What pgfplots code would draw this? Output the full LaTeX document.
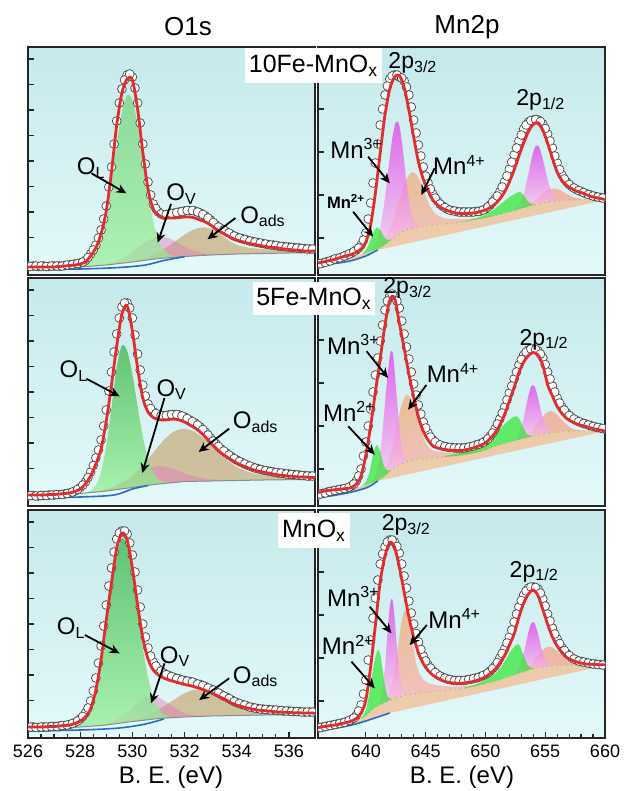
\documentclass[border=0pt]{standalone}
\usepackage{fontspec}
\setmainfont{Liberation Sans}
\usepackage{pgfplots}
\usepackage{pgfplotstable}
\pgfplotsset{compat=1.18}
\usetikzlibrary{arrows.meta}

\definecolor{bgtop}{RGB}{198,233,235}
\definecolor{bgbot}{RGB}{228,249,250}
\definecolor{fitred}{RGB}{225,45,45}
\definecolor{olgtop}{RGB}{60,180,75}
\definecolor{olgbot}{RGB}{150,240,150}
\definecolor{olltop}{RGB}{115,210,120}
\definecolor{ovc}{RGB}{225,120,185}
\definecolor{oadc}{RGB}{190,140,70}
\definecolor{mn2c}{RGB}{30,230,30}
\definecolor{mn3top}{RGB}{225,60,235}
\definecolor{mn3bot}{RGB}{250,200,235}
\definecolor{mn4top}{RGB}{238,175,120}
\definecolor{mn4bot}{RGB}{250,175,175}
\definecolor{mn4b}{RGB}{250,145,115}
\definecolor{peach}{RGB}{245,185,140}
\definecolor{blueline}{RGB}{40,110,200}
\definecolor{sline}{RGB}{150,200,60}

\tikzset{
  arr/.style={-{Stealth[length=5pt,width=4.5pt]}, line width=0.9pt, black},
  lab/.style={anchor=west, inner sep=0pt, font=\fontsize{12}{12}\selectfont},
  labp/.style={anchor=west, inner sep=0pt, font=\fontsize{11.5}{12}\selectfont},
}

\pgfplotsset{
  xps/.style={
    scale only axis, width=143.5pt, height=114pt,
    ymin=0, ymax=228,
    clip marker paths=true,
    axis line style={line width=0.9pt, black!85},
    axis background/.style={top color=bgtop, bottom color=bgbot},
    tick align=inside,
    xtick pos=left, ytick pos=left,
    yticklabels={},
    major tick length=3pt, minor tick length=2pt,
    tick style={line width=0.6pt, black!85},
    /pgf/number format/assume math mode=true,
    ticklabel style={font=\fontsize{9}{10}\selectfont},
  },
  o1s/.style={xps, xmin=526, xmax=537, ytick={12,37.5,63,88.5,114,139.5,165,190.5,216}},
  mn2p/.style={xps, xmin=636, xmax=660, ytick={37,80,123,166,209}},
  datamk/.style={only marks, mark=*, mark size=2.2pt, mark options={fill=white, draw=black!72, line width=0.35pt}},
  fitln/.style={fitred, line width=1.4pt, smooth, no markers},
  cmpOL/.style={draw=none, top color=olgtop, bottom color=olgbot, fill opacity=0.75, smooth},
  cmpOLl/.style={draw=none, top color=olltop, bottom color=olgbot, fill opacity=0.7, smooth},
  cmpOV/.style={draw=none, fill=ovc, fill opacity=0.45, smooth},
  cmpOA/.style={draw=none, fill=oadc, fill opacity=0.5, smooth},
  cmpM2/.style={draw=none, fill=mn2c, fill opacity=0.65, smooth},
  cmpM3/.style={draw=none, top color=mn3top, bottom color=mn3bot, fill opacity=0.75, smooth},
  cmpM4/.style={draw=none, top color=mn4top, bottom color=mn4bot, fill opacity=0.75, smooth},
  cmpM4b/.style={draw=none, fill=mn4b, fill opacity=0.6, smooth},
  cmpPe/.style={draw=none, fill=peach, fill opacity=0.7},
  bgln/.style={black!45, line width=0.5pt, no markers},
  blln/.style={blueline, line width=0.8pt, smooth, no markers},
  sln/.style={sline, line width=0.5pt, dotted, no markers},
}

\pgfplotstableread{
x f d
526.0 8 9
526.2 8 9
526.4 8 8.5
526.6 8 9
526.8 8 8.5
527.0 8 9
527.2 8.5 9
527.4 9 9.5
527.6 9.5 10
527.8 10 11
528.0 11 12
528.2 13 14.5
528.4 19 21
528.6 27 30
528.8 41 45
529.0 64 69
529.2 103 108
529.4 150 154
529.6 182 186
529.8 196 200
530.0 195 198
530.2 166 172
530.4 123 131
530.6 86 93
530.8 66 71
531.0 60 63
531.2 57 60
531.4 57 61
531.6 57 62
531.8 57.5 63
532.0 58 64
532.2 58 64.5
532.4 57 64
532.6 55 62
532.8 53 59
533.0 50 55
533.2 46 50
533.4 43 46.5
533.6 40 43.5
533.8 37 40.5
534.0 35 38
534.2 33.5 36.5
534.4 32 35
534.6 31 33.5
534.8 30 32.5
535.0 29 31.5
535.2 28 30.5
535.4 27.5 30
535.6 27 29
535.8 26 28.5
536.0 25.5 28
536.2 25 27.5
536.4 24.5 27
536.6 24 26.5
536.8 24 26
537.0 24 26
}\tA
\pgfplotstableread{
x d
526.1 8.5
526.3 9
526.5 9
526.7 8.5
526.9 9
527.1 9
527.3 9
527.5 10
527.7 10.5
527.9 11.5
528.1 13
528.3 17.5
528.5 25
528.7 37
528.9 56
529.1 88
529.3 131
529.5 172
529.7 195
529.9 201
530.1 187
530.3 152
530.5 111
530.7 80
530.9 66.5
531.1 61
531.3 60.5
531.5 61.5
531.7 62.5
531.9 63.5
532.1 64.5
532.3 64.5
532.5 63
532.7 60.5
532.9 57
533.1 52.5
533.3 48
533.5 45
533.7 42
533.9 39
534.1 37
534.3 35.5
534.5 34
534.7 33
534.9 32
535.1 31
535.3 30
535.5 29.5
535.7 28.5
535.9 28
536.1 27.5
536.3 27
536.5 26.5
536.7 26
536.9 26
}\mA

\pgfplotstableread{
x f d
526.0 11 10
526.2 11 10.5
526.4 11 10
526.6 11 10.5
526.8 11.5 11
527.0 11.5 11
527.2 12 11.5
527.4 12.5 12
527.6 13 13
527.8 14.5 15
528.0 17 18.5
528.2 22 24
528.4 30 34
528.6 42 48
528.8 57 66
529.0 85 96
529.2 121 134
529.4 160 172
529.6 192 199
529.8 200 203
530.0 175 188
530.2 138 152
530.4 108 121
530.6 94 102
530.8 88.5 94
531.0 86.5 91
531.2 86 90.5
531.4 86.5 91
531.6 87 91.5
531.8 86 91
532.0 84 89
532.2 81 86
532.4 78 83
532.6 74 79
532.8 69 74
533.0 63 68
533.2 58 62.5
533.4 53 57
533.6 49.5 53
533.8 46 49.5
534.0 43 46
534.2 40.5 43.5
534.4 38.5 41
534.6 36.5 39
534.8 35 37.5
535.0 34 36
535.2 33 35
535.4 32 34
535.6 31 33
535.8 30.5 32.5
536.0 30 32
536.2 29.5 31.5
536.4 29 31
536.6 29 30.5
536.8 28.5 30
537.0 28.5 30
}\tB
\pgfplotstableread{
x d
526.1 10.5
526.3 10
526.5 10.5
526.7 10.5
526.9 11
527.1 11.5
527.3 11.5
527.5 12.5
527.7 14
527.9 16.5
528.1 21
528.3 28.5
528.5 40.5
528.7 56
528.9 80
529.1 115
529.3 154
529.5 188
529.7 203
529.9 198
530.1 171
530.3 136
530.5 110
530.7 97.5
530.9 92.5
531.1 90.5
531.3 90.5
531.5 91.5
531.7 91.5
531.9 90
532.1 87.5
532.3 84.5
532.5 81
532.7 76.5
532.9 71
533.1 65
533.3 59.5
533.5 55
533.7 51
533.9 47.5
534.1 44.5
534.3 42
534.5 40
534.7 38
534.9 36.5
535.1 35.5
535.3 34.5
535.5 33.5
535.7 33
535.9 32
536.1 31.5
536.3 31
536.5 30.5
536.7 30
536.9 30
}\mB

\pgfplotstableread{
x f d
526.0 11 10.5
526.2 11 11
526.4 11 10.5
526.6 11 11
526.8 11.5 11
527.0 11.5 11.5
527.2 12 12
527.4 12.5 12.5
527.6 13 13.5
527.8 14.5 15.5
528.0 17 19
528.2 21 25
528.4 29 37
528.6 48 60
528.8 78 92
529.0 118 133
529.2 155 170
529.4 190 199
529.6 205 207
529.8 198 204
530.0 170 183
530.2 133 148
530.4 100 114
530.6 79 90
530.8 68 76
531.0 63 69
531.2 60 65
531.4 58 62.5
531.6 56.5 60.5
531.8 55 59
532.0 53.5 57.5
532.2 52.5 56.5
532.4 51 55
532.6 49.5 53.5
532.8 47.5 51.5
533.0 45.5 49
533.2 43 46.5
533.4 40.5 43.5
533.6 38 41
533.8 35 38
534.0 33 35.5
534.2 31.5 33.5
534.4 30 32
534.6 29 30.5
534.8 28 29.5
535.0 27.5 29
535.2 27 28.5
535.4 26.5 28
535.6 26 27.5
535.8 25.8 27
536.0 25.5 27
536.2 25.3 26.5
536.4 25.2 26.5
536.6 25 26
536.8 25 26
537.0 24.8 26
}\tC
\pgfplotstableread{
x d
526.1 11
526.3 10.5
526.5 11
526.7 11
526.9 11.5
527.1 11.5
527.3 12.5
527.5 13
527.7 14.5
527.9 17
528.1 21.5
528.3 30
528.5 47
528.7 75
528.9 112
529.1 152
529.3 186
529.5 205
529.7 207
529.9 195
530.1 166
530.3 131
530.5 101
530.7 82
530.9 72
531.1 67
531.3 63.5
531.5 61.5
531.7 59.5
531.9 58
532.1 57
532.3 56
532.5 54
532.7 52.5
532.9 50
533.1 48
533.3 45
533.5 42
533.7 39.5
533.9 36.5
534.1 34.5
534.3 33
534.5 31
534.7 30
534.9 29
535.1 28.5
535.3 28
535.5 28
535.7 27.5
535.9 27
536.1 26.5
536.3 26.5
536.5 26
536.7 26
536.9 26
}\mC

\pgfplotstableread{
x f d
636.0 12 11
636.4 13 12
636.8 14 13.5
637.2 15 15
637.6 16.5 16.5
638.0 18 18
638.4 19.3 20
638.8 20.5 22
639.2 23 25
639.6 26 30
640.0 33 42
640.4 50 72
640.8 82 112
641.2 122 150
641.6 160 180
642.0 186 196
642.4 198 200
642.8 199.5 198
643.2 188 194
643.6 165 180
644.0 138 155
644.4 113 130
644.8 96 108
645.2 85 92
645.6 75 81
646.0 70 74
646.4 66.7 69
646.8 64.5 66
647.2 63 64.5
647.6 61.7 63.5
648.0 61.5 63
648.4 61.5 63
648.8 61.7 63
649.2 62.3 63.5
649.6 63.5 64
650.0 65 66
650.4 67.5 70
650.8 71 76
651.2 76 83
651.6 83 93
652.0 93 106
652.4 105 120
652.8 119 134
653.2 132 146
653.6 143.5 153
654.0 150.5 155
654.4 152.3 155
654.8 145 151
655.2 132 141
655.6 117 127
656.0 103 112
656.4 94.5 100
656.8 89.5 93
657.2 86.5 88.5
657.6 84 85.5
658.0 82.5 83.5
658.4 80.5 81.5
658.8 78.7 80
659.2 77.5 78.5
659.6 76.5 77.5
660.0 75.5 77
}\tD
\pgfplotstableread{
x d
636.2 11.5
636.6 12.5
637.0 14
637.4 16
637.8 17
638.2 19
638.6 21
639.0 23.5
639.4 27
639.8 35
640.2 56
640.6 92
641.0 131
641.4 166
641.8 189
642.2 199
642.6 200
643.0 197
643.4 188
643.8 168
644.2 142
644.6 119
645.0 99
645.4 86
645.8 77
646.2 71
646.6 67.5
647.0 65
647.4 64
647.8 63
648.2 63
648.6 63
649.0 63
649.4 63.5
649.8 65
650.2 68
650.6 73
651.0 79
651.4 88
651.8 99
652.2 113
652.6 127
653.0 140
653.4 150
653.8 154.5
654.2 155.5
654.6 153.5
655.0 146.5
655.4 134
655.8 119
656.2 105.5
656.6 96
657.0 90.5
657.4 87
657.8 84.5
658.2 82.5
658.6 80.5
659.0 79
659.4 78
659.8 77
}\mD

\pgfplotstableread{
x f d
636.0 13.5 11
636.4 14.7 12.5
636.8 15.5 14
637.2 16 15
637.6 16.5 16
638.0 17 17
638.4 17.5 18
638.8 18.5 20
639.2 22 25
639.6 30 37
640.0 51 64
640.4 80 97
640.8 114 131
641.2 147 165
641.6 181 196
642.0 206 210
642.4 208 210
642.8 183 198
643.2 158 172
643.6 132 147
644.0 109 122
644.4 89 101
644.8 75 84
645.2 66 73
645.6 60 66
646.0 58 62
646.4 57 60
646.8 56.2 59
647.2 55.8 58.5
647.6 55.5 58
648.0 55.5 58
648.4 56.3 58.5
648.8 57.5 59.5
649.2 59 61
649.6 60.8 62.5
650.0 63 65
650.4 67.5 70
650.8 73 77
651.2 81 87
651.6 91.5 99
652.0 105 113
652.4 118.5 127
652.8 133.5 141
653.2 144 151
653.6 150.5 156
654.0 153.5 157
654.4 151 155
654.8 141 148
655.2 121.3 134
655.6 110 120
656.0 99.5 108
656.4 92.5 99
656.8 87.5 93
657.2 84.5 88.5
657.6 82.3 85.5
658.0 80.8 83.5
658.4 79.5 82
658.8 78 80.5
659.2 76.8 79
659.6 76 78
660.0 75 77
}\tE
\pgfplotstableread{
x d
636.2 12
636.6 13
637.0 14.5
637.4 15.5
637.8 16.5
638.2 17.5
638.6 19
639.0 22
639.4 30
639.8 50
640.2 80
640.6 114
641.0 148
641.4 181
641.8 205
642.2 212
642.6 205
643.0 185
643.4 159
643.8 134
644.2 111
644.6 92
645.0 78
645.4 69
645.8 64
646.2 61
646.6 59.5
647.0 58.5
647.4 58
647.8 58
648.2 58
648.6 59
649.0 60
649.4 61.5
649.8 63.5
650.2 67
650.6 73
651.0 82
651.4 93
651.8 106
652.2 120
652.6 134
653.0 146.5
653.4 154
653.8 157
654.2 156.5
654.6 152
655.0 141.5
655.4 127
655.8 114
656.2 103
656.6 96
657.0 90.5
657.4 87
657.8 84.5
658.2 82.5
658.6 81
659.0 79.5
659.4 78.5
659.8 77.5
}\mE

\pgfplotstableread{
x f d
636.0 10.5 10
636.4 11.3 11
636.8 12 12
637.2 12.7 13
637.6 13.3 14
638.0 14.5 15
638.4 15.5 16.5
638.8 17 18.5
639.2 19.5 22.5
639.6 25 33
640.0 38 58
640.4 71 98
640.8 113 140
641.2 156 174
641.6 182 191
642.0 195.5 198
642.4 191 196
642.8 171 185
643.2 146 162
643.6 121 137
644.0 101 114
644.4 85 96
644.8 74.5 82
645.2 67.5 73
645.6 63 67.5
646.0 60 63.5
646.4 57.5 61
646.8 56 59
647.2 55.2 58
647.6 54.8 57.5
648.0 54.8 57.5
648.4 55.3 58
648.8 56 58.8
649.2 57.2 60
649.6 59 61.5
650.0 61 63.5
650.4 64.5 67
650.8 68.5 72
651.2 75 80
651.6 82.5 89
652.0 93 101
652.4 104 116
652.8 121 131
653.2 135 143
653.6 144 150
654.0 148 151
654.4 142.5 149
654.8 128.5 139
655.2 114 124
655.6 101 110
656.0 92 99
656.4 85.5 90.5
656.8 80.5 84.5
657.2 78 80.5
657.6 76.2 78
658.0 75 76.5
658.4 74 75.5
658.8 73.8 74.5
659.2 73.5 74
659.6 73.3 73.5
660.0 73.2 73
}\tF
\pgfplotstableread{
x d
636.2 10.5
636.6 11.5
637.0 12.5
637.4 13.5
637.8 14.5
638.2 15.5
638.6 17.5
639.0 20
639.4 27
639.8 44
640.2 78
640.6 120
641.0 158
641.4 184
641.8 196
642.2 198
642.6 191.5
643.0 174
643.4 150
643.8 125
644.2 104.5
644.6 88.5
645.0 77
645.4 70
645.8 65.5
646.2 62
646.6 60
647.0 58.5
647.4 57.5
647.8 57.5
648.2 57.5
648.6 58.5
649.0 59.5
649.4 60.5
649.8 62.5
650.2 65
650.6 69.5
651.0 75.5
651.4 84.5
651.8 95
652.2 108
652.6 124
653.0 137.5
653.4 147
653.8 151
654.2 150.5
654.6 145
655.0 132
655.4 117
655.8 104
656.2 94.5
656.6 87.5
657.0 82.5
657.4 79
657.8 77
658.2 76
658.6 75
659.0 74
659.4 73.5
659.8 73
}\mF

\begin{document}
\begin{tikzpicture}
\useasboundingbox (0,0) rectangle (311.5pt,-395.5pt);

% ---------------- O1s 10Fe ----------------
\begin{axis}[o1s, at={(14pt,-23.5pt)}, anchor=north west, xtick=\empty]
\addplot[cmpOA] coordinates {(530.0,13.7)(530.4,16.4)(530.8,20.4)(531.2,26)(531.6,33)(532.0,40.4)(532.4,45.9)(532.8,47.6)(533.2,44)(533.6,36.3)(534.0,30.2)(534.4,27.6)(534.8,26.4)(535.2,25.5)(535.6,24.9)(536.0,24.5)(536.4,24.2)(536.8,23.9)(537.0,23.9)(537,22.5)(536,22)(535,21.5)(534,21)(533,20)(532,18.5)(531,16.5)(530,13)};
\addplot[cmpOV] coordinates {(529.0,11)(529.4,14.2)(529.8,19.5)(530.2,27)(530.6,34.5)(531.0,38.5)(531.4,36.7)(531.8,31.4)(532.2,25.9)(532.6,22.4)(533.0,21)(533.4,20.7)(533,20)(532,18.5)(531,16.5)(530,13)(529,10)};
\addplot[cmpOLl] coordinates {(528.0,8.6)(528.2,10.3)(528.4,14)(528.6,21.9)(528.8,36.8)(529.0,60.9)(529.2,94.2)(529.4,131.4)(529.6,163.3)(529.8,179.7)(530.0,174.9)(530.2,150.9)(530.4,116.3)(530.6,81.4)(530.8,53.6)(531.0,35.4)(531.2,25.2)(531.4,20.5)(531.6,18.8)(531.8,18.4)(531,16.5)(530,13)(529,10)(528,8)};
\addplot[bgln] coordinates {(526,7.5)(528,8)(529,10)(530,13)(531,16.5)(532,18.5)(533,20)(534,21)(535,21.5)(536,22)(537,22.5)};
\addplot[blln] coordinates {(526,5.5)(528,6)(529.5,7.5)(530.5,10)(531.2,14.5)(532,18.3)};
\addplot[datamk] table[x=x,y=d] {\tA};
\addplot[datamk] table[x=x,y=d] {\mA};
\addplot[fitln] table[x=x,y=f] {\tA};
\coordinate (A1) at (axis cs:527.86,107);
\coordinate (A1a) at (axis cs:528.43,101.7); \coordinate (A1b) at (axis cs:529.77,81.7);
\coordinate (A2) at (axis cs:531.29,81);
\coordinate (A2a) at (axis cs:531.48,71); \coordinate (A2b) at (axis cs:530.97,32.3);
\coordinate (A3) at (axis cs:534.12,58.3);
\coordinate (A3a) at (axis cs:533.95,57); \coordinate (A3b) at (axis cs:532.88,35.7);
\end{axis}

% ---------------- O1s 5Fe ----------------
\begin{axis}[o1s, at={(14pt,-139pt)}, anchor=north west, xtick=\empty]
\addplot[cmpOA] coordinates {(528.4,14)(528.8,15.5)(529.2,18.3)(529.6,23.1)(530.0,30.4)(530.4,40.8)(530.8,53.3)(531.2,65.9)(531.6,74.5)(532.0,77.3)(532.4,73.8)(532.8,66.2)(533.2,56.4)(533.6,46.8)(534.0,38.9)(534.4,34.7)(534.8,31.7)(535.2,30.3)(535.6,29.4)(536.0,28.7)(536.4,28.3)(536.8,27.8)(537.0,27.5)(537,26.5)(536,26.3)(535,26)(534,25.5)(533,25)(532,24.5)(531,22)(530,18.5)(529,15)(528.4,13.5)};
\addplot[cmpOV] coordinates {(528.6,14.7)(529.0,16.9)(529.4,20.9)(529.8,26.3)(530.2,32.5)(530.6,37.6)(531.0,39.9)(531.4,38.4)(531.8,34.9)(532.2,31)(532.6,28.1)(533.0,26.7)(533.4,26.1)(533.8,26)(533,25)(532,24.5)(531,22)(530,18.5)(529,15)(528.6,14)};
\addplot[cmpOL] coordinates {(528.2,13.4)(528.4,15.3)(528.6,20.7)(528.8,34)(529.0,60)(529.2,98.7)(529.4,138.7)(529.6,160.5)(529.8,155.1)(530.0,131.8)(530.2,99.8)(530.4,69.4)(530.6,46.8)(530.8,33.2)(531.0,26.7)(531.2,24.2)(531.4,23.7)(531,22)(530,18.5)(529,15)(528.2,13)};
\addplot[bgln] coordinates {(526,10)(528,12.5)(529,15)(530,18.5)(531,22)(532,24.5)(533,25)(534,25.5)(535,26)(536,26.3)(537,26.5)};
\addplot[blln] coordinates {(526,8)(528,9)(529.3,11)(530,17)(530.6,20.5)};
\addplot[datamk] table[x=x,y=d] {\tB};
\addplot[datamk] table[x=x,y=d] {\mB};
\addplot[fitln] table[x=x,y=f] {\tB};
\coordinate (B1) at (axis cs:527.2,134.7);
\coordinate (B1a) at (axis cs:528.24,127.3); \coordinate (B1b) at (axis cs:529.51,109.7);
\coordinate (B2) at (axis cs:530.91,116.3);
\coordinate (B2a) at (axis cs:531.23,108); \coordinate (B2b) at (axis cs:530.38,33);
\coordinate (B3) at (axis cs:533.84,84);
\coordinate (B3a) at (axis cs:533.71,77.3); \coordinate (B3b) at (axis cs:532.54,54);
\end{axis}

% ---------------- O1s MnOx ----------------
\begin{axis}[o1s, at={(14pt,-255pt)}, anchor=north west, xtick={526,528,...,536}, minor x tick num=3]
\addplot[cmpOA] coordinates {(530.0,17.7)(530.4,20.7)(530.8,25.3)(531.2,31.4)(531.6,38.4)(532.0,44.8)(532.4,48.3)(532.8,47.6)(533.2,43.2)(533.6,37)(534.0,31.3)(534.4,28.1)(534.8,26.7)(535.2,25.8)(535.6,25.4)(536.0,24.9)(536.4,24.6)(536.8,24.4)(537.0,24.3)(537,23.5)(536,23.3)(535,23)(534,22.5)(533,22)(532,21)(531,19.5)(530,16.5)};
\addplot[cmpOV] coordinates {(528.6,12.5)(529.0,14.2)(529.4,18.5)(529.8,25.9)(530.2,34.9)(530.6,41.1)(531.0,40.5)(531.4,34)(531.8,27.4)(532.2,23.5)(532.6,22.2)(533.0,22)(532,21)(531,19.5)(530,16.5)(529,13)(528.6,12.2)};
\addplot[cmpOL] coordinates {(527.8,11.5)(528.0,13.2)(528.2,17.4)(528.4,26.4)(528.6,43.2)(528.8,70.2)(529.0,107)(529.2,148)(529.4,182.6)(529.6,199.6)(529.8,193.4)(530.0,167)(530.2,129.3)(530.4,90.2)(530.6,60.8)(530.8,40.6)(531.0,29.2)(531.2,23.6)(531.4,21.4)(531,19.5)(530,16.5)(529,13)(528,11)(527.8,10.8)};
\addplot[bgln] coordinates {(526,9.5)(527,10)(528,11)(529,13)(530,16.5)(531,19.5)(532,21)(533,22)(534,22.5)(535,23)(536,23.3)(537,23.5)};
\addplot[blln] coordinates {(526,7)(528,8)(529.5,10)(530.5,14)(531.2,19)};
\addplot[datamk] table[x=x,y=d] {\tC};
\addplot[datamk] table[x=x,y=d] {\mC};
\addplot[fitln] table[x=x,y=f] {\tC};
\coordinate (C1) at (axis cs:527.09,109.7);
\coordinate (C1a) at (axis cs:528.18,103); \coordinate (C1b) at (axis cs:529.51,84.7);
\coordinate (C2) at (axis cs:531.04,81.3);
\coordinate (C2a) at (axis cs:531.23,74.7); \coordinate (C2b) at (axis cs:530.72,34.7);
\coordinate (C3) at (axis cs:533.84,61.3);
\coordinate (C3a) at (axis cs:533.71,59.7); \coordinate (C3b) at (axis cs:532.56,38);
\end{axis}

% ---------------- Mn2p 10Fe ----------------
\begin{axis}[mn2p, at={(159pt,-23.5pt)}, anchor=north west, xtick=\empty]
\addplot[cmpPe] coordinates {(636,11)(637,13)(638,15.5)(639,18.5)(640,22)(640.5,24)(641,26.5)(641.5,29.3)(642,34)(642.5,38.8)(643,42.5)(643.5,45.5)(644,47)(645,49)(646,50.5)(647,51.5)(648,53)(649,55)(650,57.3)(651,60)(652,63)(653,66.5)(654,70)(655,72.5)(656,74)(657,75)(658,75.4)(659,75.9)(660,76)(660,75)(641,25)(640.5,22)(640,19)(639,15)(638,12.5)(637,11)(636,10)};
\addplot[cmpM4] coordinates {(641.0,28)(641.4,32.9)(641.8,41.1)(642.2,53)(642.6,67.4)(643.0,82.6)(643.4,95.7)(643.8,102.5)(644.2,100.9)(644.6,92)(645.0,79.6)(645.4,67.9)(645.8,61.4)(646.2,58.5)(646.6,56.7)(647.0,56)(647.6,55.8)(648.2,55.9)(648.8,56.6)(649.4,57.3)(650.0,58.4)(650.6,59.6)(650,57.3)(649,55)(648,53)(647,51.5)(646,50.5)(645,49)(644,47)(643,42.5)(642.5,38.8)(642,34)(641.5,29.3)(641,26.3)};
\addplot[cmpM4b] coordinates {(653.2,67.9)(653.6,70.4)(654.0,73.6)(654.4,77.3)(654.8,81.4)(655.2,84.8)(655.6,86.4)(656.0,86)(656.4,83.8)(656.8,81.1)(657.2,78.6)(657.6,77)(658.0,76.1)(658.4,75.9)(657,75)(656,74)(655,72.5)(654,70)(653.2,67.2)};
\addplot[cmpM3] coordinates {(640.4,25.2)(640.7,29.5)(641.0,38.1)(641.3,53.4)(641.6,77.3)(641.9,107.4)(642.2,135.8)(642.5,152.6)(642.8,149.8)(643.1,124.6)(643.4,92.5)(643.7,67.7)(644.0,54.6)(644.3,49.7)(644.6,48.6)(644,47)(643.4,45.2)(642.8,41)(642.2,36)(641.6,30)(641,26.3)(640.4,23.6)};
\addplot[cmpM3] coordinates {(652.4,65.2)(652.7,68.4)(653.0,74.5)(653.3,85.7)(653.6,101.6)(653.9,118.5)(654.2,129)(654.5,127.8)(654.8,115.9)(655.1,100.3)(655.4,87.2)(655.7,79.4)(656.0,75.9)(656.3,74.8)(655.4,73.1)(654.5,71.5)(653.6,68.6)(652.4,64.4)};
\addplot[cmpM2] coordinates {(639.7,21.5)(640.0,25)(640.3,32.2)(640.6,42)(640.9,47.7)(641.2,44.9)(641.5,38.3)(641.8,35)(642.1,35.6)(641.5,29.3)(640.9,25.7)(640.3,23.2)(639.7,20.9)};
\addplot[cmpM2] coordinates {(647.4,52.1)(647.8,52.8)(648.2,53.6)(648.6,54.6)(649.0,55.8)(649.4,57.3)(649.8,59.3)(650.2,61.7)(650.6,64.7)(651.0,68.3)(651.4,72.1)(651.8,75.9)(652.2,79.3)(652.6,81.9)(652.9,83.1)(653.2,79.8)(653.5,74.3)(653.8,71.1)(654.1,70.7)(653,66.5)(652,63)(651,60)(650,57.3)(649,55)(648,53)(647.4,52.1)};
\addplot[sln] coordinates {(641,26.5)(641.5,29.3)(642,34)(642.5,38.8)(643,42.5)(643.5,45.5)(644,47)(645,49)(646,50.5)(647,51.5)(648,53)(649,55)(650,57.3)(651,60)(652,63)(653,66.5)(654,70)(655,72.5)(656,74)(657,75)(658,75.4)(659,75.9)(660,76)};
\addplot[blln] coordinates {(636,10)(637,11)(638,12.5)(639,15)(640,19)(640.5,22)(641,25)};
\addplot[datamk] table[x=x,y=d] {\tD};
\addplot[datamk] table[x=x,y=d] {\mD};
\addplot[fitln] table[x=x,y=f] {\tD};
\coordinate (D1) at (axis cs:641.86,211.7);
\coordinate (D2) at (axis cs:652.56,175);
\coordinate (D3) at (axis cs:637,126.7);
\coordinate (D3a) at (axis cs:640.19,118.3); \coordinate (D3b) at (axis cs:642,91.7);
\coordinate (D4) at (axis cs:645.6,110);
\coordinate (D4a) at (axis cs:645.75,106.7); \coordinate (D4b) at (axis cs:644.64,80);
\coordinate (D5) at (axis cs:636.72,73.3);
\coordinate (D5a) at (axis cs:638.94,63.3); \coordinate (D5b) at (axis cs:640.61,38.3);
\end{axis}

% ---------------- Mn2p 5Fe ----------------
\begin{axis}[mn2p, at={(159pt,-139pt)}, anchor=north west, xtick=\empty]
\addplot[cmpPe] coordinates {(636,11)(637,13)(638,15)(639,18)(640,21)(640.5,23)(641,25.5)(641.5,29)(642,35)(642.5,39.5)(643,42.5)(643.5,44.5)(644,46)(645,47.3)(646,48.5)(647,49.5)(648,50.8)(649,52.8)(650,56)(651,60.5)(652,64)(653,67)(654,70)(655,72.5)(656,74)(657,74.8)(658,75.2)(659,75.4)(660,75.5)(660,74.8)(641,25)(640.5,21)(640,18)(639,14.5)(638,12)(637,10)(636,9)};
\addplot[cmpM4] coordinates {(641.4,31.2)(641.8,41.7)(642.2,58.3)(642.6,80.9)(643.0,101.6)(643.4,111.1)(643.8,106.7)(644.2,93.3)(644.6,77)(645.0,63.5)(645.4,57.2)(645.8,54.9)(646.2,54.1)(646.6,53.5)(647.0,53.2)(647.4,53)(647.8,53.2)(648.2,53.4)(648.6,53.9)(649.0,54.3)(649.4,55.3)(649.8,56.5)(650.2,57.8)(650,56)(649,52.8)(648,50.8)(647,49.5)(646,48.5)(645,47.3)(644,46)(643,42.5)(642.5,39.5)(642,35)(641.4,28.3)};
\addplot[cmpM4b] coordinates {(653.4,70)(653.8,73.9)(654.2,79.4)(654.6,86.2)(655.0,92.2)(655.4,94.8)(655.8,93.4)(656.2,88.8)(656.6,83.4)(657.0,79.3)(657.4,76.7)(657.8,75.7)(658.2,75.4)(658,75.2)(657,74.8)(656,74)(655,72.5)(654,70)(653.4,68.2)};
\addplot[cmpM3] coordinates {(640.5,24.3)(640.8,30.4)(641.1,45.4)(641.4,75.3)(641.7,116.5)(642.0,149.7)(642.15,155)(642.3,149)(642.6,107.3)(642.9,66.9)(643.2,49.2)(643.5,45.2)(643.8,45.4)(643.5,44.5)(643,42.5)(642.5,39.5)(642,35)(641.5,29)(641,25.5)(640.5,23)};
\addplot[cmpM3] coordinates {(652.3,65.5)(652.6,68.3)(652.9,75)(653.2,87.9)(653.5,105.3)(653.8,119)(654.1,119.9)(654.4,107.9)(654.7,92.1)(655.0,80.8)(655.3,75.5)(655.6,74)(655.9,73.8)(655,72.5)(654,70)(653,67)(652.3,64.9)};
\addplot[cmpM2] coordinates {(639.7,20.5)(640.0,23.9)(640.3,33.9)(640.6,51)(640.9,61.2)(641.2,54.3)(641.5,40.7)(641.8,35.5)(642.1,36.3)(642.1,35.9)(641.5,29)(641,25.5)(640.5,23)(640,21)(639.7,20.1)};
\addplot[cmpM2] coordinates {(646.6,50.1)(647.0,50.9)(647.4,51.9)(647.8,52.9)(648.2,54.1)(648.6,55.4)(649.0,56.6)(649.4,58.6)(649.8,60.9)(650.2,64.3)(650.6,69)(651.0,74.1)(651.4,79.3)(651.8,84)(652.2,87.8)(652.6,89.8)(652.9,85.9)(653.2,77.5)(653.5,71.7)(653.8,70.1)(654.1,70.3)(654,70)(653,67)(652,64)(651,60.5)(650,56)(649,52.8)(648,50.8)(647,49.5)(646.6,49.1)};
\addplot[sln] coordinates {(641,25.5)(641.5,29)(642,35)(642.5,39.5)(643,42.5)(643.5,44.5)(644,46)(645,47.3)(646,48.5)(647,49.5)(648,50.8)(649,52.8)(650,56)(651,60.5)(652,64)(653,67)(654,70)(655,72.5)(656,74)(657,74.8)(658,75.2)(659,75.4)(660,75.5)};
\addplot[blln] coordinates {(636,9)(637,10)(638,12)(639,14.5)(640,18)(640.5,21)(641,25)};
\addplot[datamk] table[x=x,y=d] {\tE};
\addplot[datamk] table[x=x,y=d] {\mE};
\addplot[fitln] table[x=x,y=f] {\tE};
\coordinate (E1) at (axis cs:641.44,218);
\coordinate (E2) at (axis cs:652.83,166.3);
\coordinate (E3) at (axis cs:636.72,161.3);
\coordinate (E3a) at (axis cs:640.06,154.7); \coordinate (E3b) at (axis cs:641.86,128);
\coordinate (E4) at (axis cs:645.06,133);
\coordinate (E4a) at (axis cs:645.06,121); \coordinate (E4b) at (axis cs:643.53,96.3);
\coordinate (E5) at (axis cs:636.39,94.7);
\coordinate (E5a) at (axis cs:638.53,79.7); \coordinate (E5b) at (axis cs:640.75,51.3);
\end{axis}

% ---------------- Mn2p MnOx ----------------
\begin{axis}[mn2p, at={(159pt,-255pt)}, anchor=north west, xtick={640,645,...,660}, minor x tick num=4]
\addplot[cmpPe] coordinates {(636,10)(637,11.5)(638,13.5)(639,16.5)(640,22)(640.5,28)(641,32)(641.5,35)(642,38)(642.5,40.5)(643,42)(644,44)(645,45.5)(646,47)(647,48)(648,49.3)(649,51.5)(650,54.5)(651,57.5)(652,61.5)(653,65.5)(654,69.5)(655,71.5)(656,72.5)(657,72.8)(658,72.8)(659,72.8)(660,72.8)(660,72.5)(642,25)(641,21)(640,17)(639,13.5)(638,11)(637,9.5)(636,8.5)};
\addplot[cmpM4] coordinates {(641.8,40.5)(642.2,54.8)(642.6,84)(643.0,117)(643.3,127.6)(643.6,118.2)(643.8,103.7)(644.2,74.9)(644.6,61.9)(645.0,56.5)(645.4,54.2)(645.8,53.1)(646.2,52.3)(646.6,51.9)(647.0,51.6)(647.4,51.5)(647.8,51.6)(648.2,51.8)(648.6,52.3)(649.0,52.9)(649.4,53.9)(649.8,54.8)(650.2,55.8)(650,54.5)(649,51.5)(648,49.3)(647,48)(646,47)(645,45.5)(644,44)(643,42)(642.5,40.5)(641.8,36.8)};
\addplot[cmpM4b] coordinates {(653.2,67.6)(653.6,71.2)(654.0,76.4)(654.4,82.3)(654.8,88)(655.2,91.2)(655.6,90.6)(656.0,86.9)(656.4,81.9)(656.8,77.7)(657.2,74.9)(657.6,73.5)(658.0,73)(657,72.8)(656,72.5)(655,71.5)(654,69.5)(653.2,66.3)};
\addplot[cmpM3] coordinates {(641.0,33)(641.2,37.6)(641.4,48.8)(641.6,71)(641.8,102.9)(642.0,131.4)(642.2,139.1)(642.4,121.3)(642.6,91.1)(642.8,65)(643.0,50.3)(643.2,44.6)(643.4,43.3)(643,42)(642.5,40.5)(642,38)(641.5,35)(641,32)};
\addplot[cmpM3] coordinates {(652.3,63.2)(652.6,66.2)(652.9,72.7)(653.2,84.8)(653.5,101.1)(653.8,114)(654.1,115.1)(654.4,104)(654.7,89.4)(655.0,79.1)(655.3,74.1)(655.6,72.6)(655.9,72.4)(655,71.5)(654,69.5)(653,65.5)(652.3,62.7)};
\addplot[cmpM2] coordinates {(639.6,20.4)(639.8,23.3)(640.0,28.2)(640.2,38.8)(640.4,52.9)(640.6,67.8)(640.8,80.6)(641.0,87.7)(641.2,84.3)(641.4,68.4)(641.6,51.9)(641.8,42.4)(642.0,39.4)(642.2,39.1)(642,38)(641.5,35)(641,32)(640.5,28)(640,22)(639.6,19.6)};
\addplot[cmpM2] coordinates {(648.2,50.4)(648.6,51.6)(649.0,53)(649.4,54.8)(649.8,56.9)(650.2,59.5)(650.6,62.2)(651.0,66.4)(651.4,72.4)(651.8,80.4)(652.2,88.3)(652.5,92.4)(652.7,93.8)(652.9,91.8)(653.2,82.2)(653.5,73.6)(653.8,70.2)(654.1,69.8)(654,69.5)(653,65.5)(652,61.5)(651,57.5)(650,54.5)(649,51.5)(648.2,49.7)};
\addplot[sln] coordinates {(640,22)(640.5,28)(641,32)(641.5,35)(642,38)(642.5,40.5)(643,42)(644,44)(645,45.5)(646,47)(647,48)(648,49.3)(649,51.5)(650,54.5)(651,57.5)(652,61.5)(653,65.5)(654,69.5)(655,71.5)(656,72.5)(657,72.8)(658,72.8)(659,72.8)(660,72.8)};
\addplot[blln] coordinates {(636,8.5)(637,9.5)(638,11)(639,13.5)(640,17)(641,21)(642,25)};
\addplot[datamk] table[x=x,y=d] {\tF};
\addplot[datamk] table[x=x,y=d] {\mF};
\addplot[fitln] table[x=x,y=f] {\tF};
\coordinate (F1) at (axis cs:641.3,213);
\coordinate (F2) at (axis cs:652,166.3);
\coordinate (F3) at (axis cs:636.72,141.3);
\coordinate (F3a) at (axis cs:640.33,131.3); \coordinate (F3b) at (axis cs:642.14,104.7);
\coordinate (F4) at (axis cs:645.2,119.7);
\coordinate (F4a) at (axis cs:645.1,113); \coordinate (F4b) at (axis cs:643.67,93);
\coordinate (F5) at (axis cs:636.3,93);
\coordinate (F5a) at (axis cs:638.8,76.3); \coordinate (F5b) at (axis cs:640.75,49.7);
\end{axis}

% annotations on top
\node[lab] at (A1) {O\textsubscript{L}}; \draw[arr] (A1a) -- (A1b);
\node[lab] at (A2) {O\textsubscript{V}}; \draw[arr] (A2a) -- (A2b);
\node[lab] at (A3) {O\textsubscript{ads}}; \draw[arr] (A3a) -- (A3b);
\node[lab] at (B1) {O\textsubscript{L}}; \draw[arr] (B1a) -- (B1b);
\node[lab] at (B2) {O\textsubscript{V}}; \draw[arr] (B2a) -- (B2b);
\node[lab] at (B3) {O\textsubscript{ads}}; \draw[arr] (B3a) -- (B3b);
\node[lab] at (C1) {O\textsubscript{L}}; \draw[arr] (C1a) -- (C1b);
\node[lab] at (C2) {O\textsubscript{V}}; \draw[arr] (C2a) -- (C2b);
\node[lab] at (C3) {O\textsubscript{ads}}; \draw[arr] (C3a) -- (C3b);

\node[labp] at (D1) {2p\textsubscript{3/2}};
\node[labp] at (D2) {2p\textsubscript{1/2}};
\node[lab] at (D3) {Mn\textsuperscript{3+}}; \draw[arr] (D3a) -- (D3b);
\node[lab] at (D4) {Mn\textsuperscript{4+}}; \draw[arr] (D4a) -- (D4b);
\node[anchor=west, inner sep=0pt, font=\fontsize{8.3}{9}\selectfont\bfseries] at (D5) {Mn\textsuperscript{2+}}; \draw[arr] (D5a) -- (D5b);

\node[labp] at (E1) {2p\textsubscript{3/2}};
\node[labp] at (E2) {2p\textsubscript{1/2}};
\node[lab] at (E3) {Mn\textsuperscript{3+}}; \draw[arr] (E3a) -- (E3b);
\node[lab] at (E4) {Mn\textsuperscript{4+}}; \draw[arr] (E4a) -- (E4b);
\node[lab] at (E5) {Mn\textsuperscript{2+}}; \draw[arr] (E5a) -- (E5b);

\node[labp] at (F1) {2p\textsubscript{3/2}};
\node[labp] at (F2) {2p\textsubscript{1/2}};
\node[lab] at (F3) {Mn\textsuperscript{3+}}; \draw[arr] (F3a) -- (F3b);
\node[lab] at (F4) {Mn\textsuperscript{4+}}; \draw[arr] (F4a) -- (F4b);
\node[lab] at (F5) {Mn\textsuperscript{2+}}; \draw[arr] (F5a) -- (F5b);

% sample labels
\node[fill=white, inner sep=0pt, minimum width=68.5pt, minimum height=17.5pt, font=\fontsize{12.5}{13}\selectfont] at (156.75pt,-32.75pt) {10Fe-MnO\textsubscript{x}};
\node[fill=white, inner sep=0pt, minimum width=61pt, minimum height=16.5pt, font=\fontsize{12.5}{13}\selectfont] at (157pt,-149.25pt) {5Fe-MnO\textsubscript{x}};
\node[fill=white, inner sep=0pt, minimum width=36pt, minimum height=17.5pt, font=\fontsize{12.5}{13}\selectfont] at (157pt,-265.25pt) {MnO\textsubscript{x}};

% titles and axis labels
\node[font=\fontsize{13}{14}\selectfont] at (94pt,-13.5pt) {O1s};
\node[font=\fontsize{13}{14}\selectfont] at (233.5pt,-13.5pt) {Mn2p};
\node[font=\fontsize{12}{13}\selectfont] at (85.5pt,-388.5pt) {B. E. (eV)};
\node[font=\fontsize{12}{13}\selectfont] at (231pt,-388.5pt) {B. E. (eV)};
\end{tikzpicture}
\end{document}
